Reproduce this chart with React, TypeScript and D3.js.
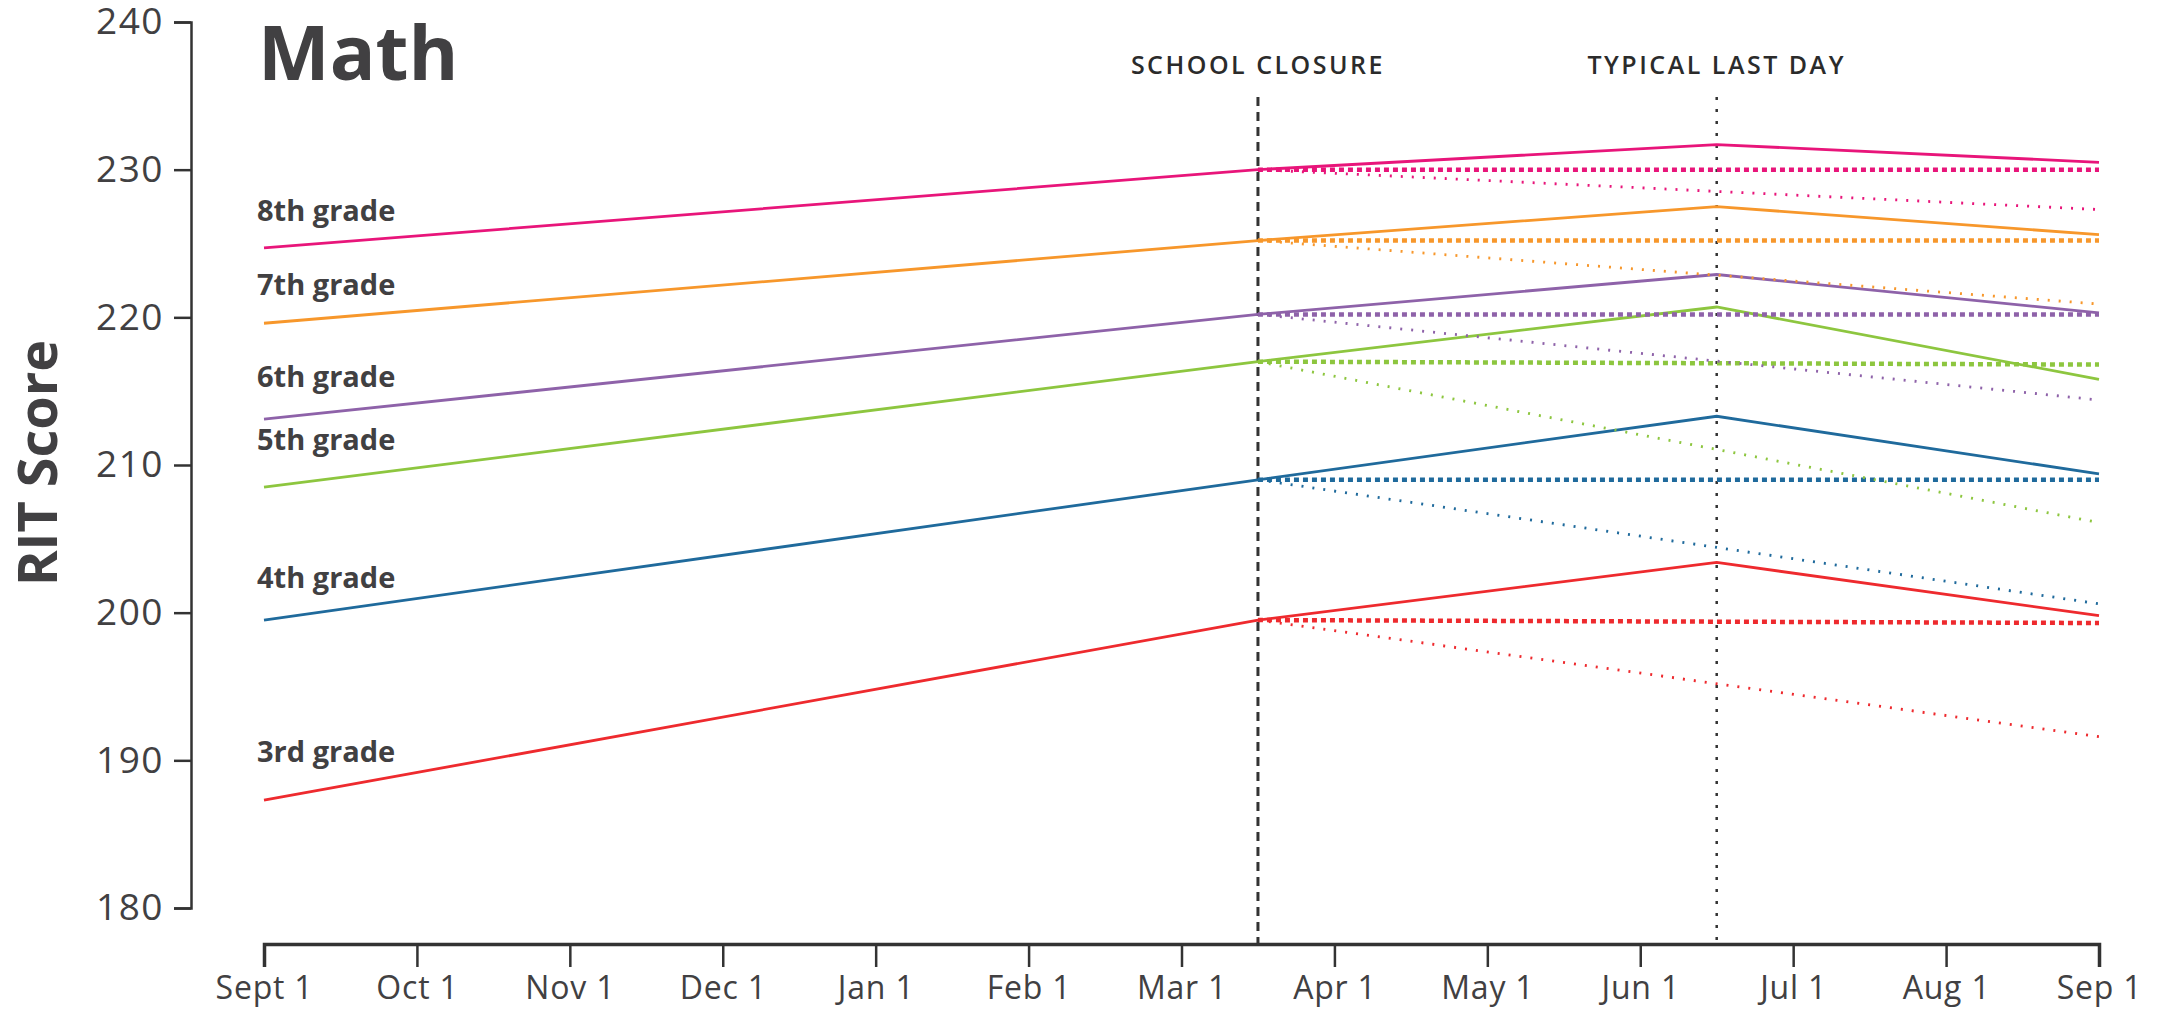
import React, { useEffect, useRef } from 'react';
import * as d3 from 'd3';

// month ticks, evenly spaced
const monthLabels = ['Sept 1', 'Oct 1', 'Nov 1', 'Dec 1', 'Jan 1', 'Feb 1', 'Mar 1', 'Apr 1', 'May 1', 'Jun 1', 'Jul 1', 'Aug 1', 'Sep 1'];
const yTicks = [180, 190, 200, 210, 220, 230, 240];

const grades = ['3rd grade', '4th grade', '5th grade', '6th grade', '7th grade', '8th grade'];
const gradeColors = ['#ee2a2e', '#1f6a9c', '#8dc63f', '#8e62a9', '#f7972b', '#e8157a'];

// x positions in months since Sept 1
const closureMonth = 6.5;
const lastDayMonth = 9.5;
const endMonth = 12;

const sept1Scores = [187.3, 199.5, 208.5, 213.1, 219.6, 224.7];
const closureScores = [199.5, 209.0, 217.0, 220.2, 225.2, 230.0];
const lastDayScores = [203.4, 213.3, 220.7, 222.9, 227.5, 231.7];
const fallScores = [199.8, 209.4, 215.8, 220.3, 225.6, 230.5];
const flatFallScores = [199.3, 209.0, 216.8, 220.2, 225.2, 230.0];
const slideFallScores = [191.6, 200.6, 206.1, 214.4, 220.9, 227.3];
// where the grade names sit (score units)
const labelScores = [189.9, 201.7, 211.0, 215.3, 221.5, 226.5];

const annotations = [
  { month: closureMonth, text: 'SCHOOL CLOSURE', dash: '9,6', width: 3 },
  { month: lastDayMonth, text: 'TYPICAL LAST DAY', dash: '3,9', width: 2.5 },
];

export default function App() {
  const chartRef = useRef<SVGSVGElement>(null);

  useEffect(() => {
    document.body.style.margin = '0';
    const width = 2167;
    const height = 1010;
    const textColor = '#414042';
    const font = '"Open Sans", sans-serif';

    const svg = d3.select(chartRef.current);
    svg.selectAll('*').remove();
    svg.attr('width', width).attr('height', height);

    const x = d3.scaleLinear().domain([0, endMonth]).range([264, 2099]);
    const y = d3.scaleLinear().domain([180, 240]).range([908, 22]);
    const line = d3.line<[number, number]>().x(d => x(d[0])).y(d => y(d[1]));

    // y axis
    const yAxis = svg.append('g')
      .attr('transform', 'translate(191,0)')
      .call(d3.axisLeft(y).tickValues(yTicks).tickSize(17).tickPadding(10).tickFormat(d3.format('d')));
    yAxis.selectAll('path, line').attr('stroke', '#333').attr('stroke-width', 2.5);
    yAxis.selectAll('text')
      .attr('fill', textColor).style('font-family', font).style('font-size', '37px').style('letter-spacing', '1.5px');

    // x axis
    const xAxis = svg.append('g')
      .attr('transform', 'translate(0,944)')
      .call(d3.axisBottom(x).tickValues(d3.range(0, endMonth + 1)).tickSize(23).tickPadding(9)
        .tickFormat((d) => monthLabels[d as number]));
    xAxis.select('path').attr('stroke', '#333').attr('stroke-width', 3.5);
    xAxis.selectAll('line').attr('stroke', '#333').attr('stroke-width', 2.5);
    xAxis.selectAll('text')
      .attr('fill', textColor).style('font-family', font).style('font-size', '32px').style('letter-spacing', '0.8px');

    // reference lines
    annotations.forEach(a => {
      svg.append('line')
        .attr('x1', x(a.month)).attr('x2', x(a.month))
        .attr('y1', 97).attr('y2', 944)
        .attr('stroke', '#333').attr('stroke-width', a.width).attr('stroke-dasharray', a.dash);
      svg.append('text')
        .attr('x', x(a.month)).attr('y', 74)
        .attr('text-anchor', 'middle')
        .attr('fill', '#2b2b2b')
        .style('font-family', font).style('font-size', '25px').style('font-weight', 600).style('letter-spacing', '2.5px')
        .text(a.text);
    });

    // grade lines
    grades.forEach((g, i) => {
      const c = gradeColors[i];
      svg.append('path')
        .attr('d', line([[0, sept1Scores[i]], [closureMonth, closureScores[i]], [lastDayMonth, lastDayScores[i]], [endMonth, fallScores[i]]]))
        .attr('fill', 'none').attr('stroke', c).attr('stroke-width', 2.8);
      svg.append('path')
        .attr('d', line([[closureMonth, closureScores[i]], [endMonth, flatFallScores[i]]]))
        .attr('fill', 'none').attr('stroke', c).attr('stroke-width', 4.5).attr('stroke-dasharray', '5,4');
      svg.append('path')
        .attr('d', line([[closureMonth, closureScores[i]], [endMonth, slideFallScores[i]]]))
        .attr('fill', 'none').attr('stroke', c).attr('stroke-width', 2.8).attr('stroke-dasharray', '2,9');
      svg.append('text')
        .attr('x', x(0) - 7).attr('y', y(labelScores[i]))
        .attr('fill', textColor)
        .style('font-family', font).style('font-size', '29px').style('font-weight', 700)
        .text(g);
    });

    // title and y label
    svg.append('text')
      .attr('x', 258).attr('y', 80)
      .attr('fill', textColor)
      .style('font-family', font).style('font-size', '76px').style('font-weight', 700)
      .text('Math');

    svg.append('text')
      .attr('transform', 'translate(57,463) rotate(-90)')
      .attr('text-anchor', 'middle')
      .attr('fill', textColor)
      .style('font-family', font).style('font-size', '54px').style('font-weight', 700)
      .text('RIT Score');
  }, []);

  return <svg ref={chartRef} style={{ display: 'block' }} />;
}
